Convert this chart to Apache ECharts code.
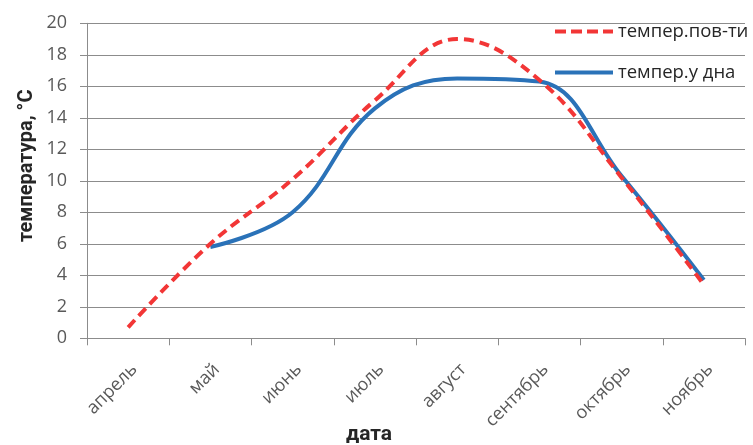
<!DOCTYPE html>
<html>
<head>
<meta charset="utf-8">
<script src="https://cdn.jsdelivr.net/npm/echarts@6/dist/echarts.min.js"></script>
<style>html,body{margin:0;padding:0;background:#fff;}#c{width:753px;height:445px;}</style>
</head>
<body>
<div id="c"></div>
<script>
const months = ['апрель','май','июнь','июль','август','сентябрь','октябрь','ноябрь'];
const surfaceTemp = [0.7, 6.0, 10.1, 15.1, 19.0, 16.4, 10.2, 3.4];
const bottomTemp = [null, 5.8, 8.0, 14.6, 16.5, 16.3, 10.3, 3.7];
const yTicks = [0, 2, 4, 6, 8, 10, 12, 14, 16, 18, 20];
const seriesNames = ['темпер.пов-ти', 'темпер.у дна'];

const FONT = '"Open Sans", "Noto Sans", sans-serif';
const TFONT = 'Roboto, "Open Sans", sans-serif';
const dashIcon = 'path://M0,0h11v4h-11z M16,0h11v4h-11z M32,0h11v4h-11z M48,0h10v4h-10z';
const solidIcon = 'path://M0,0h58v4h-58z';
const chart = echarts.init(document.getElementById('c'), null, {renderer: 'canvas'});
chart.setOption({
  animation: false,
  backgroundColor: '#ffffff',
  grid: {left: 87, right: 8, top: 23.3, bottom: 106.7, containLabel: false, outerBoundsMode: 'none'},
  legend: {
    orient: 'vertical',
    left: 555, top: 22, padding: 0,
    itemWidth: 58, itemHeight: 4, itemGap: 22,
    textStyle: {fontFamily: FONT, fontSize: 18.5, color: '#262626', padding: [0,0,0,0]},
    data: [
      {name: seriesNames[0], icon: dashIcon, itemStyle: {color: '#f23636'}},
      {name: seriesNames[1], icon: solidIcon, itemStyle: {color: '#2a72b8'}}
    ]
  },
  xAxis: {
    type: 'category',
    data: months,
    boundaryGap: true,
    axisLine: {lineStyle: {color: '#8c8c8c', width: 1}},
    axisTick: {show: true, length: 7, lineStyle: {color: '#8c8c8c'}},
    axisLabel: {rotate: 45, margin: 22, fontFamily: FONT, fontSize: 18, color: '#595959', verticalAlign: 'top', align: 'right', interval: 0},
    name: 'дата',
    nameLocation: 'middle',
    nameGap: 86,
    nameMoveOverlap: false,
    nameTextStyle: {fontFamily: TFONT, fontSize: 21, fontWeight: 'bold', color: '#262626', padding: [0, 94, 0, 0]}
  },
  yAxis: {
    type: 'value',
    min: yTicks[0], max: yTicks[yTicks.length - 1], interval: 2,
    axisLine: {show: true, lineStyle: {color: '#8c8c8c', width: 1}},
    axisTick: {show: true, length: 7, lineStyle: {color: '#8c8c8c'}},
    splitLine: {lineStyle: {color: '#8c8c8c', width: 1}},
    axisLabel: {margin: 20, fontFamily: FONT, fontSize: 18, color: '#595959'},
    name: 'температура, °C',
    nameLocation: 'middle',
    nameGap: 50,
    nameRotate: 90,
    nameMoveOverlap: false,
    nameTextStyle: {fontFamily: TFONT, fontSize: 20, fontWeight: 'bold', color: '#262626', padding: [0, 0, 0, 30]}
  },
  series: [
    {
      name: seriesNames[0], type: 'line', data: surfaceTemp, smooth: 0.4,
      symbol: 'none', connectNulls: false,
      lineStyle: {color: '#f23636', width: 4, type: [10, 6], cap: 'butt'},
      itemStyle: {color: '#f23636'}, z: 3
    },
    {
      name: seriesNames[1], type: 'line', data: bottomTemp, smooth: 0.4,
      symbol: 'none',
      lineStyle: {color: '#2a72b8', width: 4},
      itemStyle: {color: '#2a72b8'}, z: 2
    }
  ]
});
</script>
</body>
</html>
